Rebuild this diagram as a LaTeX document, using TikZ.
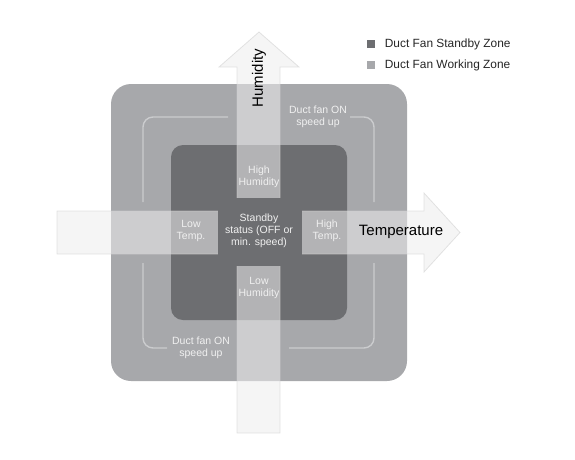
\documentclass[tikz,border=0pt]{standalone}
\usepackage{fontspec}
\setmainfont{Liberation Sans}
\usetikzlibrary{positioning}

\definecolor{standbygray}{HTML}{6D6E71}
\definecolor{workgray}{HTML}{A7A8AB}
\definecolor{arrowgray}{HTML}{EDEDED}
\definecolor{bracketgray}{HTML}{CBCCCE}
\definecolor{legendtext}{HTML}{262626}

\begin{document}
\begin{tikzpicture}[
		x=1pt, y=-1pt,
		zone label/.style = {
			text=white!94!black, align=center,
			font=\fontsize{10.5}{11.8}\selectfont,
			inner sep=0pt, outer sep=0pt
		},
		axis label/.style = {
			text=black, font=\fontsize{15}{17}\selectfont,
			inner sep=0pt
		},
		legend box/.style = {
			rectangle, minimum size=8pt, inner sep=0pt
		},
		legend text/.style = {
			text=legendtext, font=\fontsize{11.9}{13}\selectfont,
			inner sep=0pt, anchor=west
		},
		axis arrow/.style = {
			fill=arrowgray, fill opacity=0.55,
			draw=black!18, draw opacity=0.6, line width=0.8pt
		},
		bracket/.style = {
			draw=bracketgray, line width=1.4pt, rounded corners=10pt
		}
		]
		\useasboundingbox (0,0) rectangle (575,459);
		% zones
		\fill[workgray, rounded corners=20pt] (111,84) rectangle (407,381);
		\draw[bracket] (228,117) -| (143,202);
		\draw[bracket] (143,263) |- (167,348);
		\draw[bracket] (289,348) -| (374,263);
		\draw[bracket] (374,202) |- (350,117);
		\fill[standbygray, rounded corners=12pt] (171,145) rectangle (347,320);
		% axes
		\path[axis arrow] (237,433) -- (237,67) -- (219,67) -- (259,32)
			-- (299,67) -- (280,67) -- (280,433) -- cycle;
		\path[axis arrow] (57,211) -- (424,211) -- (424,193) -- (460,232.5)
			-- (424,272) -- (424,254) -- (57,254) -- cycle;
		\fill[standbygray] (218,198) rectangle (302,266);
		% labels
		\node[axis label, rotate=90] (hum) at (259,78) {Humidity};
		\node[axis label] (temp) at (401,232) {Temperature};
		\node[zone label] (status) at (259,231) {Standby\\status (OFF or\\min. speed)};
		\node[zone label] (highhum) at (259,177) {High\\Humidity};
		\node[zone label] (lowhum) at (259,288) {Low\\Humidity};
		\node[zone label] (lowtemp) at (191,231) {Low\\Temp.};
		\node[zone label] (hightemp) at (327,231) {High\\Temp.};
		\node[zone label] (onup) at (318,117) {Duct fan ON\\speed up};
		\node[zone label] (ondown) at (201,348) {Duct fan ON\\speed up};
		% legend
		\node[legend box, fill=standbygray] (legstandby) at (370.5,44) {};
		\node[legend box, fill=workgray, below=13pt of legstandby] (legwork) {};
		\node[legend text, right=10pt of legstandby] (txtstandby) {Duct Fan Standby Zone};
		\node[legend text, right=10pt of legwork] (txtwork) {Duct Fan Working Zone};
\end{tikzpicture}
\end{document}
